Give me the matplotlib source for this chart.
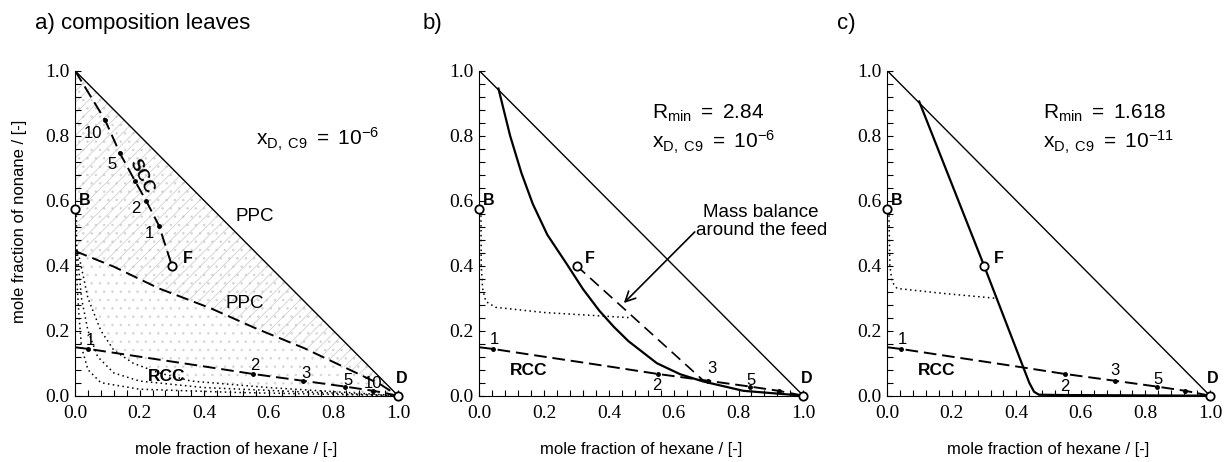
import numpy as np
import matplotlib
matplotlib.use('Agg')
import matplotlib.pyplot as plt
from matplotlib.ticker import MultipleLocator

plt.rcParams['font.family'] = ['Liberation Sans', 'DejaVu Sans']
plt.rcParams['mathtext.fontset'] = 'custom'
plt.rcParams['mathtext.rm'] = 'Liberation Sans'
plt.rcParams['mathtext.it'] = 'Liberation Sans'
plt.rcParams['mathtext.bf'] = 'Liberation Sans:bold'
plt.rcParams['hatch.linewidth'] = 0.5

tick_vals = [0.0, 0.2, 0.4, 0.6, 0.8, 1.0]
tick_labels = ['0.0', '0.2', '0.4', '0.6', '0.8', '1.0']

# product and feed compositions (x hexane, x nonane)
feed = (0.30, 0.40)
bottoms = (0.0, 0.575)
distil = (1.0, 0.0)

# rectifying composition curve (same in all panels)
rcc_x = [0.0, 0.041, 0.20, 0.40, 0.55, 0.705, 0.836, 0.924, 1.0]
rcc_y = [0.149, 0.144, 0.120, 0.090, 0.067, 0.046, 0.028, 0.015, 0.0]
rcc_stage_x = [0.041, 0.55, 0.705, 0.836, 0.924]
rcc_stage_y = [0.144, 0.067, 0.046, 0.028, 0.015]

# panel a: stripping composition curve
scc_x = [0.0, 0.093, 0.139, 0.186, 0.22, 0.26, 0.30]
scc_y = [1.0, 0.848, 0.746, 0.66, 0.60, 0.523, 0.40]
scc_stage_x = [0.093, 0.139, 0.186, 0.22, 0.26]
scc_stage_y = [0.848, 0.746, 0.66, 0.60, 0.523]

# panel a: pinch point curve
ppc_x = [0.0, 0.12, 0.26, 0.42, 0.56, 0.71, 0.85, 0.945, 1.0]
ppc_y = [0.445, 0.397, 0.33, 0.269, 0.207, 0.146, 0.08, 0.035, 0.0]

# panel a: dotted leaf boundaries
leaf1_x = [0.004, 0.006, 0.012, 0.02, 0.04, 0.08, 0.2, 0.5, 1.0]
leaf1_y = [0.57, 0.35, 0.25, 0.15, 0.08, 0.04, 0.02, 0.01, 0.0]
leaf2_x = [0.006, 0.02, 0.04, 0.07, 0.12, 0.2, 0.4, 0.7, 1.0]
leaf2_y = [0.45, 0.30, 0.20, 0.12, 0.07, 0.045, 0.025, 0.012, 0.0]
leaf3_x = [0.01, 0.04, 0.08, 0.12, 0.18, 0.26, 0.36, 0.6, 1.0]
leaf3_y = [0.44, 0.30, 0.20, 0.14, 0.10, 0.07, 0.045, 0.025, 0.0]

# panel b: stripping profile, dotted curve, feed mass balance
prof_b_x = [0.059, 0.095, 0.13, 0.165, 0.21, 0.27, 0.32, 0.37, 0.415, 0.46, 0.548, 0.62, 0.69, 0.815, 1.0]
prof_b_y = [0.945, 0.80, 0.685, 0.59, 0.495, 0.405, 0.328, 0.262, 0.212, 0.168, 0.10, 0.066, 0.044, 0.015, 0.0]
dot_b_x = [0.005, 0.006, 0.01, 0.02, 0.05, 0.2, 0.465]
dot_b_y = [0.57, 0.40, 0.33, 0.29, 0.272, 0.256, 0.24]
mb_x = [0.30, 0.69]
mb_y = [0.40, 0.048]

# panel c
prof_c_x = [0.099, 0.30, 0.44, 0.455, 0.47, 0.55, 1.0]
prof_c_y = [0.905, 0.40, 0.04, 0.012, 0.003, 0.002, 0.0]
dot_c_x = [0.005, 0.008, 0.015, 0.03, 0.17, 0.334]
dot_c_y = [0.57, 0.40, 0.35, 0.33, 0.315, 0.30]

fig = plt.figure(figsize=(12.24, 4.62), dpi=100)
ax_a = fig.add_axes([0.0613, 0.1435, 0.2639, 0.7035])
ax_b = fig.add_axes([0.3916, 0.1435, 0.2647, 0.7035])
ax_c = fig.add_axes([0.7249, 0.1435, 0.2636, 0.7035])

dash = (0, (6.5, 3))
dots = (0, (1, 2.2))


def style(ax):
    ax.set_xlim(0, 1)
    ax.set_ylim(0, 1)
    ax.spines[['top', 'right']].set_visible(False)
    ax.set_xticks(tick_vals)
    ax.set_yticks(tick_vals)
    ax.set_xticklabels(tick_labels, fontfamily='Liberation Serif', fontsize=14)
    ax.set_yticklabels(tick_labels, fontfamily='Liberation Serif', fontsize=14)
    ax.xaxis.set_minor_locator(MultipleLocator(0.04))
    ax.yaxis.set_minor_locator(MultipleLocator(0.04))
    ax.tick_params(which='both', direction='in', length=4, width=0.8)
    ax.tick_params(axis='x', pad=7)
    ax.tick_params(axis='y', pad=4)
    ax.set_xlabel('mole fraction of hexane / [-]', fontsize=12, labelpad=14)
    # diagonal
    ax.plot([0, 1], [1, 0], color='black', lw=1.0)
    # rcc
    ax.plot(rcc_x, rcc_y, color='black', lw=1.4, ls=dash)
    ax.plot(rcc_stage_x, rcc_stage_y, 'o', color='black', ms=2.5)
    # B, F, D
    for p in [bottoms, feed, distil]:
        ax.plot(p[0], p[1], 'o', mfc='white', mec='black', ms=6, mew=1.3,
                clip_on=False, zorder=6)
    ax.text(bottoms[0] + 0.03, bottoms[1] + 0.027, 'B', fontsize=11.5,
            fontweight='bold', ha='center', va='center')
    ax.text(1.01, 0.053, 'D', fontsize=11.5, fontweight='bold', ha='center', va='center')


for ax in [ax_a, ax_b, ax_c]:
    style(ax)

# ---- a)
poly_x = leaf3_x + [0.0, 0.0]
poly_y = leaf3_y + [1.0, leaf3_y[0]]
ax_a.fill(poly_x, poly_y, facecolor='none', edgecolor='#d2d2d2', hatch='..', lw=0, zorder=0)
ax_a.fill_between(ppc_x, ppc_y, 1 - np.array(ppc_x), facecolor='none',
                  edgecolor='#c8c8c8', hatch='///', lw=0, zorder=0)
ax_a.plot(scc_x, scc_y, color='black', lw=1.4, ls=dash)
ax_a.plot(scc_stage_x, scc_stage_y, 'o', color='black', ms=2.5)
ax_a.plot(ppc_x, ppc_y, color='black', lw=1.4, ls=dash)
for lx, ly in [(leaf1_x, leaf1_y), (leaf2_x, leaf2_y), (leaf3_x, leaf3_y)]:
    ax_a.plot(lx, ly, color='black', lw=1.1, ls=dots)
fig.text(0.016, 0.52, 'mole fraction of nonane / [-]', fontsize=12,
         rotation=90, ha='center', va='center')

for t, x, y in [('10', 0.057, 0.807), ('5', 0.113, 0.71), ('2', 0.189, 0.577),
                ('1', 0.229, 0.50), ('1', 0.046, 0.171), ('2', 0.557, 0.092),
                ('3', 0.715, 0.067), ('5', 0.846, 0.048), ('10', 0.924, 0.038)]:
    ax_a.text(x, y, t, fontsize=12, ha='center', va='center')
ax_a.text(0.206, 0.674, 'SCC', fontsize=12.5, fontweight='bold', rotation=-63,
          ha='center', va='center')
ax_a.text(0.557, 0.551, 'PPC', fontsize=13.5, ha='center', va='center')
ax_a.text(0.526, 0.284, 'PPC', fontsize=13.5, ha='center', va='center')
ax_a.text(0.284, 0.058, 'RCC', fontsize=12.5, fontweight='bold', ha='center', va='center')
ax_a.text(0.349, 0.423, 'F', fontsize=11.5, fontweight='bold', ha='center', va='center')
ax_a.text(0.56, 0.787, r'$\mathregular{x_{D,\ C9}\ =\ 10^{-6}}$', fontsize=15,
          ha='left', va='center')
fig.text(0.029, 0.95, 'a) composition leaves', fontsize=16, ha='left', va='center')

# ---- b)
ax_b.plot(prof_b_x, prof_b_y, color='black', lw=1.6)
ax_b.plot(dot_b_x, dot_b_y, color='black', lw=1.1, ls=dots)
ax_b.plot(mb_x, mb_y, color='black', lw=1.2, ls=(0, (7, 4)))
ax_b.annotate('', xy=(0.44, 0.279), xytext=(0.671, 0.51),
              arrowprops=dict(arrowstyle='->', lw=1.2, color='black',
                              mutation_scale=18))
ax_b.text(0.87, 0.535, 'Mass balance\naround the feed', fontsize=13.5,
          ha='center', va='center', linespacing=1.05, clip_on=False)
for t, x, y in [('1', 0.048, 0.173), ('2', 0.547, 0.03), ('3', 0.717, 0.084),
                ('5', 0.84, 0.048)]:
    ax_b.text(x, y, t, fontsize=12, ha='center', va='center')
ax_b.text(0.151, 0.079, 'RCC', fontsize=12.5, fontweight='bold', ha='center', va='center')
ax_b.text(0.342, 0.423, 'F', fontsize=11.5, fontweight='bold', ha='center', va='center')
ax_b.text(0.533, 0.87, r'$\mathregular{R_{min}\ =\ 2.84}$', fontsize=15,
          ha='left', va='center')
ax_b.text(0.533, 0.78, r'$\mathregular{x_{D,\ C9}\ =\ 10^{-6}}$', fontsize=15,
          ha='left', va='center')
fig.text(0.3455, 0.95, 'b)', fontsize=16, ha='left', va='center')

# ---- c)
ax_c.plot(prof_c_x, prof_c_y, color='black', lw=1.6)
ax_c.plot(dot_c_x, dot_c_y, color='black', lw=1.1, ls=dots)
for t, x, y in [('1', 0.048, 0.173), ('2', 0.551, 0.028), ('3', 0.706, 0.077),
                ('5', 0.84, 0.05)]:
    ax_c.text(x, y, t, fontsize=12, ha='center', va='center')
ax_c.text(0.153, 0.079, 'RCC', fontsize=12.5, fontweight='bold', ha='center', va='center')
ax_c.text(0.347, 0.423, 'F', fontsize=11.5, fontweight='bold', ha='center', va='center')
ax_c.text(0.482, 0.87, r'$\mathregular{R_{min}\ =\ 1.618}$', fontsize=15,
          ha='left', va='center')
ax_c.text(0.482, 0.78, r'$\mathregular{x_{D,\ C9}\ =\ 10^{-11}}$', fontsize=15,
          ha='left', va='center')
fig.text(0.6835, 0.95, 'c)', fontsize=16, ha='left', va='center')

fig.savefig('out.png', dpi=100)
